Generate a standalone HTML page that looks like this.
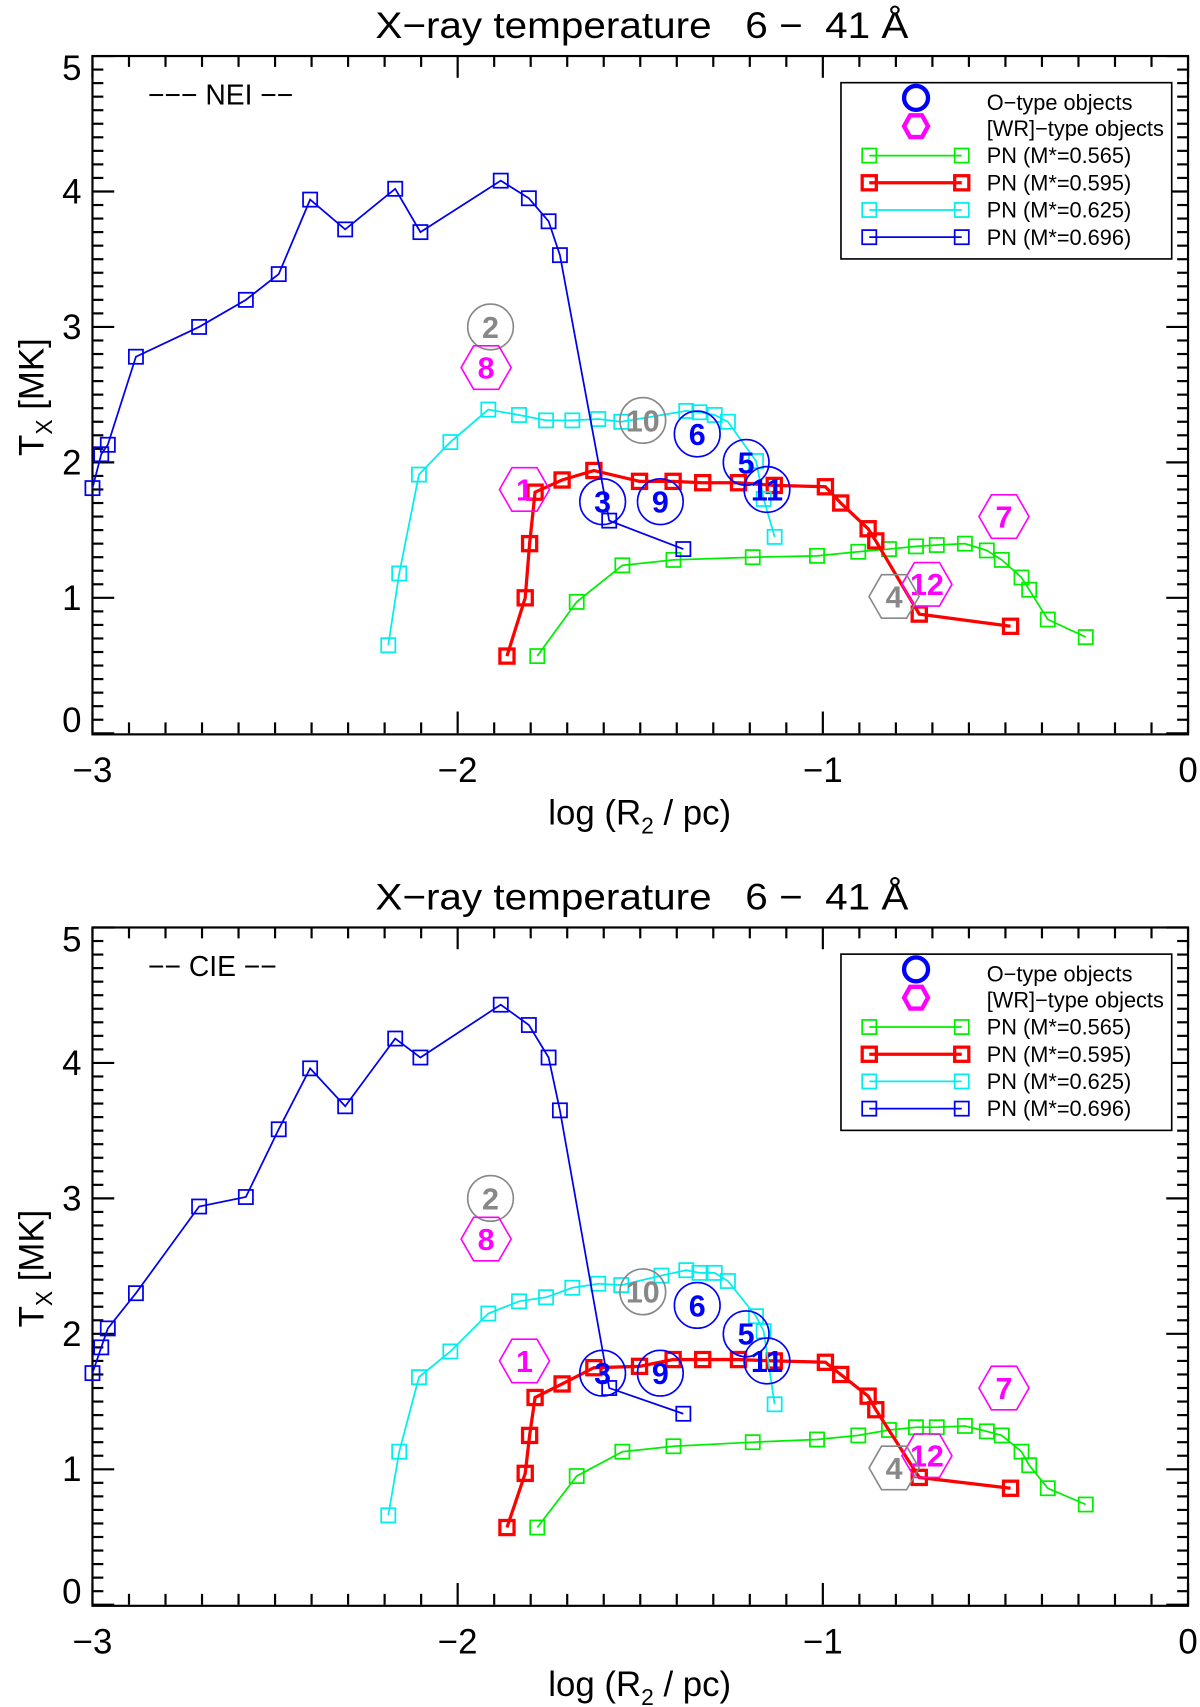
<!DOCTYPE html>
<html><head><meta charset="utf-8"><style>
html,body{margin:0;padding:0;background:#fff;}
svg{display:block;font-family:"Liberation Sans",sans-serif;}
text{white-space:pre;}
</style></head><body>
<svg id="chart" width="1200" height="1707" viewBox="0 0 1103 1569" preserveAspectRatio="none" xmlns="http://www.w3.org/2000/svg"></svg>
<script>
// ---- data ----
const blueX = [-3.0,-2.976,-2.958,-2.881,-2.708,-2.58,-2.49,-2.404,-2.308,-2.171,-2.102,-1.882,-1.805,-1.751,-1.72,-1.585,-1.382];
const blueNEI = [1.81,2.06,2.13,2.78,3.0,3.2,3.39,3.94,3.72,4.02,3.70,4.08,3.95,3.78,3.53,1.57,1.36];
const blueCIE = [1.71,1.90,2.04,2.30,2.94,3.01,3.51,3.96,3.68,4.18,4.04,4.43,4.28,4.04,3.65,1.60,1.41];
const redX = [-1.865,-1.815,-1.803,-1.788,-1.714,-1.627,-1.502,-1.41,-1.329,-1.231,-1.133,-0.993,-0.951,-0.876,-0.855,-0.736,-0.486];
const redNEI = [0.57,1.0,1.40,1.78,1.87,1.94,1.86,1.86,1.85,1.85,1.83,1.82,1.70,1.51,1.42,0.88,0.79];
const redCIE = [0.57,0.97,1.25,1.53,1.63,1.75,1.76,1.81,1.81,1.81,1.80,1.79,1.70,1.54,1.44,0.94,0.86];
const cyanXNEI = [-2.19,-2.16,-2.106,-2.02,-1.916,-1.832,-1.758,-1.686,-1.615,-1.552,-1.374,-1.338,-1.296,-1.26,-1.183,-1.162,-1.132];
const cyanNEI = [0.65,1.18,1.91,2.15,2.39,2.35,2.31,2.31,2.32,2.30,2.38,2.37,2.35,2.30,2.01,1.73,1.45];
const cyanXCIE = [-2.19,-2.16,-2.106,-2.02,-1.916,-1.832,-1.758,-1.686,-1.615,-1.552,-1.442,-1.374,-1.338,-1.296,-1.26,-1.183,-1.162,-1.132];
const cyanCIE = [0.66,1.13,1.68,1.87,2.15,2.24,2.27,2.34,2.37,2.36,2.43,2.47,2.45,2.45,2.39,2.13,2.02,1.48];
const greenX = [-1.782,-1.674,-1.549,-1.409,-1.192,-1.016,-0.903,-0.819,-0.745,-0.688,-0.611,-0.551,-0.510,-0.456,-0.435,-0.384,-0.280];
const greenNEI = [0.57,0.97,1.24,1.28,1.30,1.31,1.34,1.36,1.38,1.39,1.40,1.35,1.28,1.15,1.06,0.84,0.71];
const greenCIE = [0.57,0.95,1.13,1.17,1.20,1.22,1.25,1.29,1.31,1.31,1.32,1.28,1.25,1.13,1.03,0.86,0.74];
const objLabels = ["2","8","10","6","5","11","1","3","9","7","12","4"];
const objKinds = ["circle","hex","circle","circle","circle","circle","hex","circle","circle","hex","hex","hex"];
const objColors = ["gray","magenta","gray","blue","blue","blue","magenta","blue","blue","magenta","magenta","gray"];
const objX = [-1.910,-1.922,-1.493,-1.344,-1.21,-1.153,-1.817,-1.603,-1.445,-0.504,-0.715,-0.805];
const objY = [3.0,2.70,2.31,2.21,2.0,1.80,1.80,1.71,1.71,1.60,1.10,1.01];
const xTicks = ["-3","-2","-1","0"];
const yTicks = ["0","1","2","3","4","5"];

const NS="http://www.w3.org/2000/svg";
const svg=document.getElementById('chart');
function mk(tag,attrs,parent){const e=document.createElementNS(NS,tag);for(const k in attrs)e.setAttribute(k,attrs[k]);(parent||svg).appendChild(e);return e;}
const colMap={gray:"#888",magenta:"#f0f",blue:"#00f"};
const X0=85,X1=1092;
function xs(v){return X0+(v+3)/3*(X1-X0);}

function panel(off,tag,blueY,redY,cyanX,cyanY,greenY,labelText){
  const g=mk('g',{});
  
  
  const Y0=674+off, U=124.5, top=Y0-5*U;
  function ys(v){return Y0-v*U;}
  const t=mk('text',{x:590,y:35+off,'font-size':34,'text-anchor':'middle',textLength:490,lengthAdjust:'spacingAndGlyphs'},g);
  t.textContent="X\u2212ray temperature   6 \u2212  41 \u00c5";
  
  
  const fr=mk('rect',{x:X0,y:top,width:X1-X0,height:Y0-top+1,fill:'none',stroke:'#000','stroke-width':2},g);
  
  
  for(let i=0;i<=30;i++){const v=-3+i*0.1;const x=xs(v);const L=(i%10==0)?20:10;
    mk('line',{x1:x,x2:x,y1:Y0,y2:Y0-L,stroke:'#000','stroke-width':2},g);
    mk('line',{x1:x,x2:x,y1:top,y2:top+L,stroke:'#000','stroke-width':2},g);}
  xTicks.forEach((s,i)=>{const tx=mk('text',{x:xs(+s),y:Y0+45,'font-size':32,'text-anchor':'middle'},g);
    tx.textContent=s.replace('-','\u2212');
    
    });
  for(let i=0;i<=50;i++){const y=ys(i*0.1);const L=(i%10==0)?20:10;
    mk('line',{x1:X0,x2:X0+L,y1:y,y2:y,stroke:'#000','stroke-width':2},g);
    mk('line',{x1:X1,x2:X1-L,y1:y,y2:y,stroke:'#000','stroke-width':2},g);}
  yTicks.forEach((s,i)=>{const ty=mk('text',{x:66,y:Math.min(ys(+s)+11,Y0-1),'font-size':32,'text-anchor':'middle'},g);
    if(s==="5") ty.setAttribute('y',top+22);
    ty.textContent=s;
    
    });
  const xt=mk('text',{x:588,y:758+off,'font-size':32,'text-anchor':'middle'},g);
  xt.innerHTML='log (R<tspan font-size="21" dy="8">2</tspan><tspan dy="-8"> / pc)</tspan>';
  
  
  const yt=mk('text',{x:0,y:0,'font-size':32,'text-anchor':'middle',transform:`translate(40,${365+off}) rotate(-90)`},g);
  yt.innerHTML='T<tspan font-size="21" dy="8">X</tspan><tspan dy="-8"> [MK]</tspan>';
  
  
  const lb=mk('text',{x:136,y:96+off,'font-size':26},g);
  lb.textContent=labelText;
  
  
  function series(xArr,yArr,color,w,name){
    const sg=mk('g',{},g);
    
    
    const pts=xArr.map((x,i)=>xs(x)+','+ys(yArr[i])).join(' ');
    mk('polyline',{points:pts,fill:'none',stroke:color,'stroke-width':w},sg);
    xArr.forEach((x,i)=>{const r=mk('rect',{x:xs(x)-6.5,y:ys(yArr[i])-6.5,width:13,height:13,fill:'none',stroke:color,'stroke-width':w},sg);
      
      });
  }
  series(greenX,greenY,'#0e0',1.6,tag+'-series-m0565');
  series(redX,redY,'#f00',3,tag+'-series-m0595');
  series(cyanX,cyanY,'#0ee',1.6,tag+'-series-m0625');
  series(blueX,blueY,'#00e',1.6,tag+'-series-m0696');
  objLabels.forEach((s,i)=>{const cx=xs(objX[i]),cy=ys(objY[i]);const c=colMap[objColors[i]];
    const og=mk('g',{},g);
    
    
    if(objKinds[i]==='circle') mk('circle',{cx:cx,cy:cy,r:21,fill:'none',stroke:c,'stroke-width':1.5},og);
    else{const rx=23,ry=20;mk('polygon',{points:[[cx-rx,cy],[cx-rx/2,cy-ry],[cx+rx/2,cy-ry],[cx+rx,cy],[cx+rx/2,cy+ry],[cx-rx/2,cy+ry]].map(p=>p.join(',')).join(' '),fill:'none',stroke:c,'stroke-width':1.5},og);}
    const tx=mk('text',{x:cx,y:cy+10,'font-size':28,'font-weight':'bold','text-anchor':'middle',fill:c},og);
    tx.textContent=s;});
  const lg=mk('g',{},g);
  
  
  mk('rect',{x:773,y:76+off,width:304,height:162,fill:'#fff',stroke:'#000','stroke-width':1.5},lg);
  const rows=[94,118,143,168,193,218].map(v=>v+off);
  mk('circle',{cx:842,cy:rows[0]-4,r:11,fill:'none',stroke:'#00f','stroke-width':4},lg);
  const hx=842,hy=rows[1]-2;mk('polygon',{points:`${hx-11},${hy} ${hx-5.5},${hy-10} ${hx+5.5},${hy-10} ${hx+11},${hy} ${hx+5.5},${hy+10} ${hx-5.5},${hy+10}`,fill:'none',stroke:'#f0f','stroke-width':4},lg);
  const ents=[["O-type objects",null,0],["[WR]-type objects",null,0],["PN (M*=0.565)","#0e0",1.6],["PN (M*=0.595)","#f00",3],["PN (M*=0.625)","#0ee",1.6],["PN (M*=0.696)","#00e",1.6]];
  ents.forEach((e,i)=>{const y=rows[i];
    const eg=mk('g',{},lg);
    
    
    if(e[1]){mk('line',{x1:799,x2:884,y1:y,y2:y,stroke:e[1],'stroke-width':e[2]},eg);
      [799,884].forEach(x=>mk('rect',{x:x-6.5,y:y-6.5,width:13,height:13,fill:'none',stroke:e[1],'stroke-width':e[2]},eg));}
    const tt=mk('text',{x:907,y:y+7,'font-size':20},eg);tt.textContent=e[0].replace('O-type','O\u2212type').replace(']-type',']\u2212type');});
}
panel(0,'nei',blueNEI,redNEI,cyanXNEI,cyanNEI,greenNEI,'\u2212\u2212\u2212 NEI \u2212\u2212');
panel(801,'cie',blueCIE,redCIE,cyanXCIE,cyanCIE,greenCIE,'\u2212\u2212 CIE \u2212\u2212');
</script>
</body></html>
